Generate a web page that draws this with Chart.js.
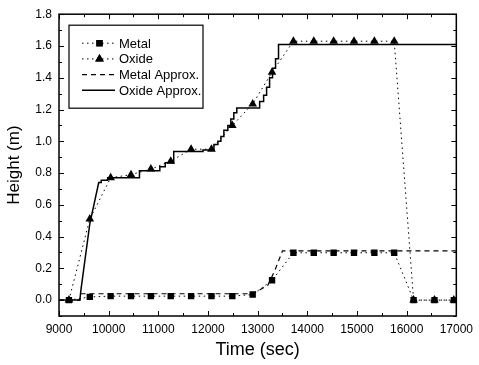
<!DOCTYPE html>
<html>
<head>
<meta charset="utf-8">
<script src="https://cdn.jsdelivr.net/npm/chart.js@4/dist/chart.umd.min.js"></script>
<style>
  html, body { margin: 0; padding: 0; background: #fff; }
</style>
</head>
<body>
<canvas id="chart" width="479" height="365"></canvas>
<script>
// measured samples (sec / m)
const times = [9200, 9620, 10040, 10450, 10850, 11250, 11660, 12070, 12490, 12900, 13290, 13720, 14130, 14530, 14940, 15350, 15750, 16140, 16560, 16950];
const metal = [0.0, 0.02, 0.025, 0.025, 0.025, 0.025, 0.025, 0.025, 0.025, 0.035, 0.125, 0.298, 0.298, 0.298, 0.298, 0.298, 0.298, 0.0, 0.0, 0.0];
const oxide = [0.0, 0.51, 0.77, 0.79, 0.825, 0.875, 0.95, 0.95, 1.10, 1.235, 1.435, 1.63, 1.63, 1.63, 1.63, 1.63, 1.63, 0.0, 0.0, 0.0];

// approximation curves (corner points of the staircase)
const metalApproxT = [9000, 9420, 9440, 12900, 13100, 13200, 13350, 13500, 17000];
const metalApproxH = [0.0, 0.0, 0.04, 0.04, 0.075, 0.09, 0.19, 0.31, 0.31];
const oxideApproxT = [9000, 9420, 9440, 9620, 9800, 9850, 9850, 9980, 9980, 10620, 10620, 11030, 11030, 11140, 11140, 11310, 11310, 11900, 11900, 12120, 12120, 12200, 12200, 12260, 12260, 12320, 12320, 12400, 12400, 12460, 12460, 12520, 12520, 12580, 12580, 13040, 13040, 13120, 13120, 13180, 13180, 13240, 13240, 13300, 13300, 13360, 13360, 13420, 13420, 17000];
const oxideApproxH = [0.0, 0.0, 0.06, 0.48, 0.74, 0.74, 0.755, 0.755, 0.77, 0.77, 0.815, 0.815, 0.84, 0.84, 0.865, 0.865, 0.935, 0.935, 0.945, 0.945, 0.98, 0.98, 1.0, 1.0, 1.03, 1.03, 1.07, 1.07, 1.1, 1.1, 1.14, 1.14, 1.18, 1.18, 1.21, 1.21, 1.25, 1.25, 1.29, 1.29, 1.34, 1.34, 1.40, 1.40, 1.46, 1.46, 1.52, 1.52, 1.61, 1.61];

const xTicks = [9000, 10000, 11000, 12000, 13000, 14000, 15000, 16000, 17000];
const yTicks = [0.0, 0.2, 0.4, 0.6, 0.8, 1.0, 1.2, 1.4, 1.6, 1.8];
const legendLabels = ["Metal", "Oxide", "Metal Approx.", "Oxide Approx."];

const toXY = (xs, ys) => xs.map((v, i) => ({ x: v, y: ys[i] }));

// box + inward ticks on all four sides
const framePlugin = {
	id: "frame",
	afterDatasetsDraw(chart) {
		const { ctx, chartArea: a, scales } = chart;
		const sx = scales.x, sy = scales.y;
		ctx.save();
		ctx.strokeStyle = "#000";
		ctx.lineWidth = 1;
		ctx.beginPath();
		for (let i = 0; i < xTicks.length * 2 - 1; i++) {
			const v = xTicks[0] + i * 500;
			const px = Math.round(sx.getPixelForValue(v)) + 0.5;
			const len = i % 2 === 0 ? 5 : 3;
			ctx.moveTo(px, a.bottom); ctx.lineTo(px, a.bottom - len);
			ctx.moveTo(px, a.top); ctx.lineTo(px, a.top + len);
		}
		for (let i = -1; i < yTicks.length * 2 - 1; i++) {
			const v = i * 0.1;
			const py = Math.round(sy.getPixelForValue(v)) + 0.5;
			const len = i % 2 === 0 ? 5 : 3;
			ctx.moveTo(a.left, py); ctx.lineTo(a.left + len, py);
			ctx.moveTo(a.right, py); ctx.lineTo(a.right - len, py);
		}
		ctx.stroke();
		ctx.lineWidth = 1.5;
		ctx.strokeRect(a.left, a.top, a.right - a.left, a.bottom - a.top);
		ctx.restore();
	},
};

// legend box inside the plot, with line samples
const legendPlugin = {
	id: "boxLegend",
	afterDraw(chart) {
		const { ctx, chartArea: a } = chart;
		const bx = a.left + 10, by = a.top + 11, bw = 134, bh = 83;
		ctx.save();
		ctx.fillStyle = "#fff";
		ctx.fillRect(bx, by, bw, bh);
		ctx.strokeStyle = "#000";
		ctx.lineWidth = 1.2;
		ctx.strokeRect(bx, by, bw, bh);
		ctx.font = "13px 'Liberation Sans', Arial, sans-serif";
		ctx.textBaseline = "middle";
		legendLabels.forEach((label, row) => {
			const ds = chart.data.datasets[row];
			const y = by + 18 + row * 15.7;
			const x0 = bx + 13, x1 = bx + 46;
			ctx.strokeStyle = "#000";
			ctx.lineWidth = ds.borderWidth;
			ctx.setLineDash(ds.borderDash || []);
			ctx.beginPath();
			ctx.moveTo(x0, y); ctx.lineTo(x1, y);
			ctx.stroke();
			ctx.setLineDash([]);
			if (ds.pointRadius > 0) {
				ctx.fillStyle = "#000";
				Chart.helpers.drawPoint(ctx, { pointStyle: ds.pointStyle, radius: ds.pointRadius, borderWidth: 0 }, (x0 + x1) / 2 + 1, y);
				ctx.fill();
			}
			ctx.fillStyle = "#000";
			ctx.fillText(label, bx + 50, y + 1);
		});
		ctx.restore();
	},
};

new Chart(document.getElementById("chart"), {
	type: "line",
	data: {
		datasets: [
			{
				label: legendLabels[0],
				data: toXY(times, metal),
				borderColor: "#000",
				backgroundColor: "#000",
				borderWidth: 1,
				borderDash: [1.5, 3.5],
				pointStyle: "rect",
				pointRadius: 4.5,
				pointBorderWidth: 0,
			},
			{
				label: legendLabels[1],
				data: toXY(times, oxide),
				borderColor: "#000",
				backgroundColor: "#000",
				borderWidth: 1,
				borderDash: [1.5, 3.5],
				pointStyle: "triangle",
				pointRadius: 5,
				pointBorderWidth: 0,
			},
			{
				label: legendLabels[2],
				data: toXY(metalApproxT, metalApproxH),
				borderColor: "#000",
				borderWidth: 1.2,
				borderDash: [5, 4],
				pointRadius: 0,
			},
			{
				label: legendLabels[3],
				data: toXY(oxideApproxT, oxideApproxH),
				borderColor: "#000",
				borderWidth: 1.5,
				pointRadius: 0,
			},
		],
	},
	options: {
		responsive: false,
		animation: false,
		layout: { padding: { left: 0, right: 18, top: 13, bottom: 0 } },
		plugins: {
			legend: { display: false },
			tooltip: { enabled: false },
		},
		scales: {
			x: {
				type: "linear",
				min: 9000,
				max: 17000,
				afterBuildTicks: (s) => { s.ticks = xTicks.map((v) => ({ value: v })); },
				afterFit: (s) => { s.height = 49; },
				grid: { drawOnChartArea: false, drawTicks: false },
				border: { display: false },
				ticks: {
					color: "#000",
					padding: 6,
					maxRotation: 0,
					font: { family: "'Liberation Sans', Arial, sans-serif", size: 12 },
					callback: (v) => String(v),
				},
				title: {
					display: true,
					text: "Time (sec)",
					color: "#000",
					font: { family: "'Liberation Sans', Arial, sans-serif", size: 18 },
					padding: { top: 0, bottom: 4 },
				},
			},
			y: {
				type: "linear",
				min: -0.1,
				max: 1.8,
				afterBuildTicks: (s) => { s.ticks = yTicks.map((v) => ({ value: v })); },
				afterFit: (s) => { s.width = 59; },
				grid: { drawOnChartArea: false, drawTicks: false },
				border: { display: false },
				ticks: {
					color: "#000",
					padding: 7,
					font: { family: "'Liberation Sans', Arial, sans-serif", size: 12 },
					callback: (v) => v.toFixed(1),
				},
				title: {
					display: true,
					text: "Height (m)",
					color: "#000",
					font: { family: "'Liberation Sans', Arial, sans-serif", size: 17 },
					padding: { top: 4, bottom: 0 },
				},
			},
		},
	},
	plugins: [framePlugin, legendPlugin],
});
</script>
</body>
</html>
